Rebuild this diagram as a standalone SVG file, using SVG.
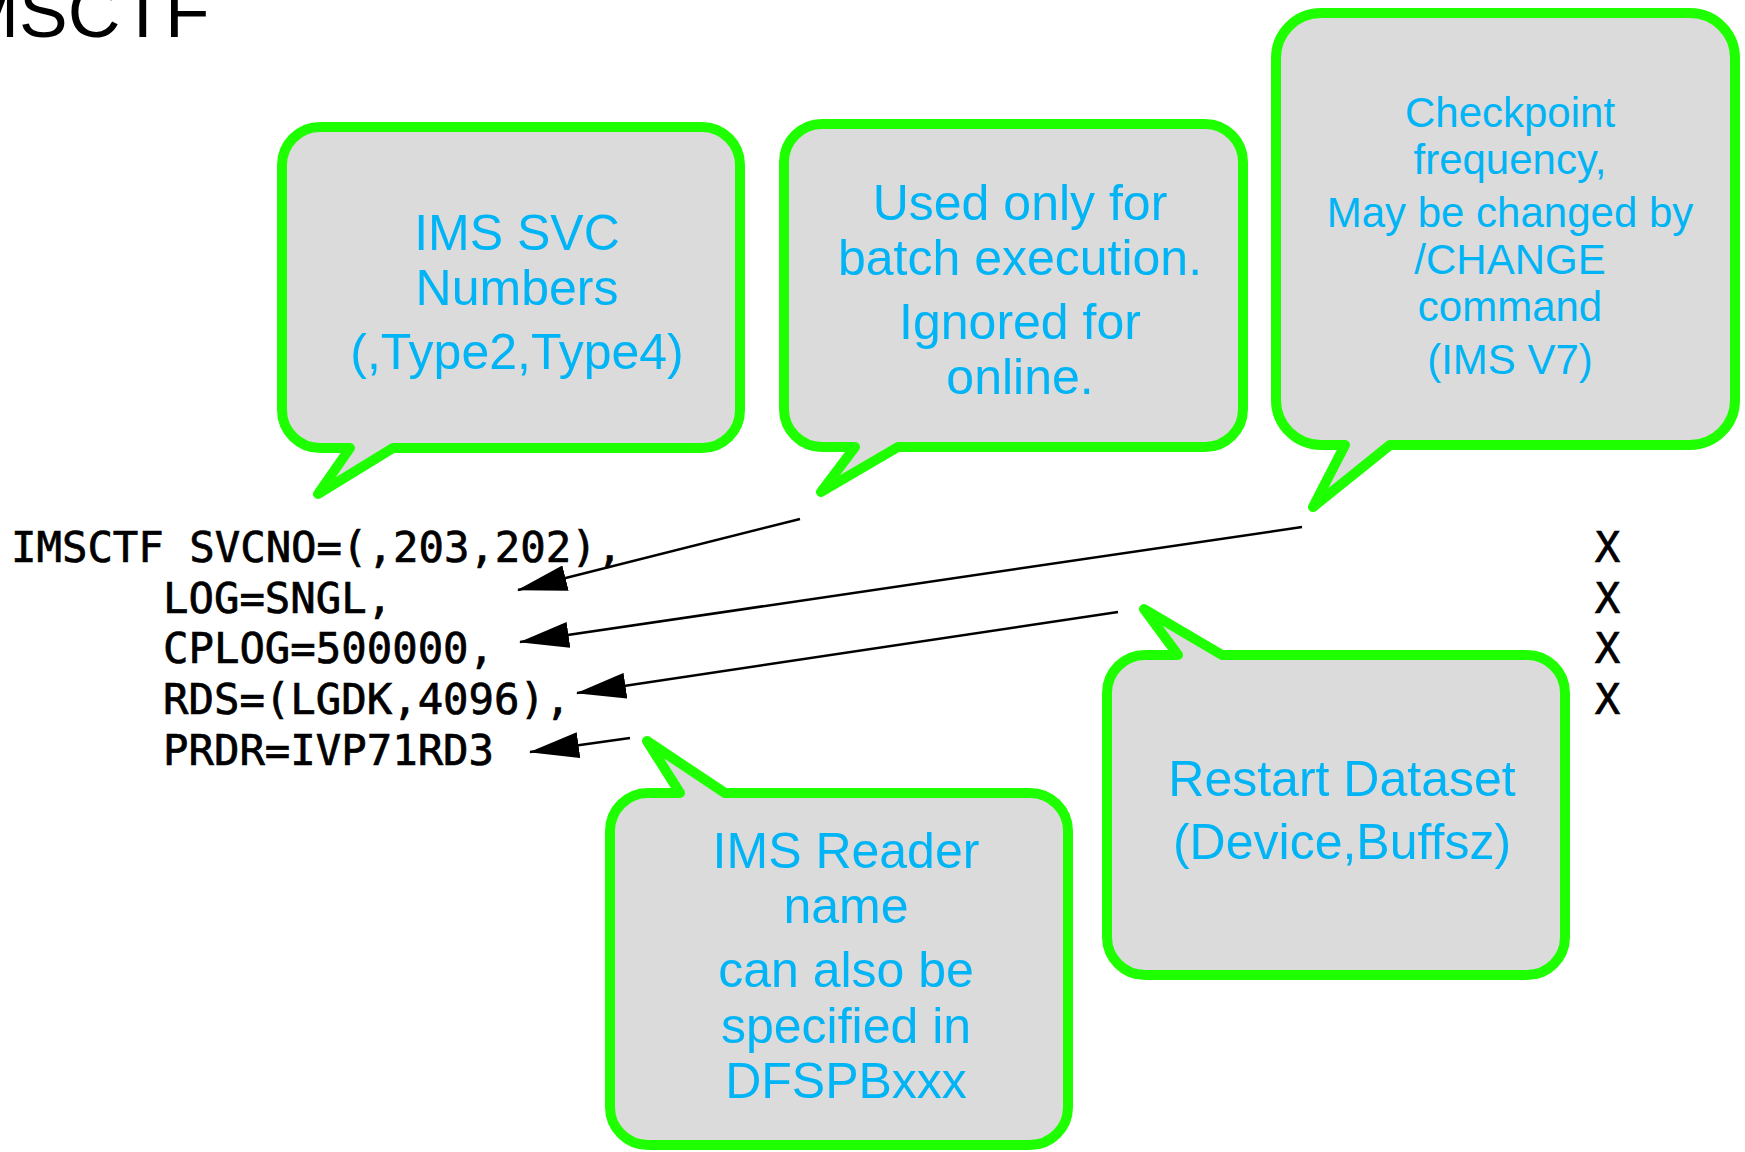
<svg xmlns="http://www.w3.org/2000/svg" width="1745" height="1152" viewBox="0 0 1745 1152">
<style>
.bubble{fill:#DBDBDB;stroke:#1EFF00;stroke-width:10;stroke-linejoin:round}
.lbl{font-family:"Liberation Sans",Arial,sans-serif;font-size:50px;fill:#00B4F5;text-anchor:middle}
.lbl.s{font-size:42px}
.code{font-family:"DejaVu Sans Mono","Liberation Mono",monospace;font-size:42.3px;fill:#000;stroke:#000;stroke-width:0.7}
.conn{stroke:#000;stroke-width:2.5;fill:none;marker-end:url(#ah)}
</style>
<defs>
<marker id="ah" markerUnits="userSpaceOnUse" viewBox="0 0 50 26" markerWidth="50" markerHeight="26" refX="49" refY="13" orient="auto">
<path d="M0,0 L50,13 L0,26 Z" fill="#000"/>
</marker>
</defs>
<rect width="1745" height="1152" fill="#fff"/>
<text x="-62" y="37" font-family="Liberation Sans,Arial,sans-serif" font-size="73" fill="#000">IMSCTF</text>

<g id="code">
<text class="code" x="11" y="562">IMSCTF SVCNO=(,203,202),</text>
<text class="code" x="163" y="612.5">LOG=SNGL,</text>
<text class="code" x="163" y="663">CPLOG=500000,</text>
<text class="code" x="163" y="714">RDS=(LGDK,4096),</text>
<text class="code" x="163" y="765">PRDR=IVP71RD3</text>
<text class="code" x="1607.5" y="562" text-anchor="middle">X</text>
<text class="code" x="1607.5" y="612.5" text-anchor="middle">X</text>
<text class="code" x="1607.5" y="663" text-anchor="middle">X</text>
<text class="code" x="1607.5" y="714" text-anchor="middle">X</text>
</g>

<g id="svc">
<path class="bubble" d="M320,127 H702 A38,38 0 0 1 740,165 V410 A38,38 0 0 1 702,448 H393 L318,494 L350,448 H320 A38,38 0 0 1 282,410 V165 A38,38 0 0 1 320,127 Z"/>
<text class="lbl" x="517" y="250">IMS SVC</text>
<text class="lbl" x="517" y="305">Numbers</text>
<text class="lbl" x="517" y="369">(,Type2,Type4)</text>
</g>

<g id="log">
<path class="bubble" d="M822,124 H1205 A38,38 0 0 1 1243,162 V409 A38,38 0 0 1 1205,447 H898 L821,492 L855,447 H822 A38,38 0 0 1 784,409 V162 A38,38 0 0 1 822,124 Z"/>
<text class="lbl" x="1020" y="220">Used only for</text>
<text class="lbl" x="1020" y="275">batch execution.</text>
<text class="lbl" x="1020" y="339">Ignored for</text>
<text class="lbl" x="1020" y="394">online.</text>
</g>

<g id="cplog">
<path class="bubble" d="M1321,13 H1690 A45,45 0 0 1 1735,58 V400 A45,45 0 0 1 1690,445 H1390 L1313,507 L1345,445 H1321 A45,45 0 0 1 1276,400 V58 A45,45 0 0 1 1321,13 Z"/>
<text class="lbl s" x="1510" y="127">Checkpoint</text>
<text class="lbl s" x="1510" y="174">frequency,</text>
<text class="lbl s" x="1510" y="227">May be changed by</text>
<text class="lbl s" x="1510" y="274">/CHANGE</text>
<text class="lbl s" x="1510" y="321">command</text>
<text class="lbl s" x="1510" y="374">(IMS V7)</text>
</g>

<g id="prdr">
<path class="bubble" d="M648,793 H680 L647,741 L725,793 H1030 A38,38 0 0 1 1068,831 V1107 A38,38 0 0 1 1030,1145 H648 A38,38 0 0 1 610,1107 V831 A38,38 0 0 1 648,793 Z"/>
<text class="lbl" x="846" y="868">IMS Reader</text>
<text class="lbl" x="846" y="923">name</text>
<text class="lbl" x="846" y="987">can also be</text>
<text class="lbl" x="846" y="1043">specified in</text>
<text class="lbl" x="846" y="1098">DFSPBxxx</text>
</g>

<g id="rds">
<path class="bubble" d="M1145,655 H1178 L1144,609 L1222,655 H1527 A38,38 0 0 1 1565,693 V937 A38,38 0 0 1 1527,975 H1145 A38,38 0 0 1 1107,937 V693 A38,38 0 0 1 1145,655 Z"/>
<text class="lbl" x="1342" y="796">Restart Dataset</text>
<text class="lbl" x="1342" y="859">(Device,Buffsz)</text>
</g>

<g id="connectors">
<line class="conn" x1="800" y1="519" x2="518" y2="590"/>
<line class="conn" x1="1302" y1="527" x2="520" y2="642"/>
<line class="conn" x1="1118" y1="612" x2="577" y2="693"/>
<line class="conn" x1="630" y1="738" x2="530" y2="752"/>
</g>
</svg>
